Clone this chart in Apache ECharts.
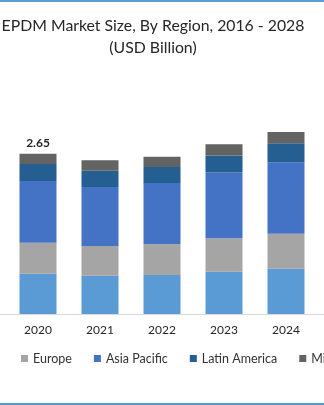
<!DOCTYPE html>
<html>
<head>
<meta charset="utf-8">
<script src="https://cdn.jsdelivr.net/npm/echarts@6/dist/echarts.min.js"></script>
<style>
  html, body { margin: 0; padding: 0; width: 324px; height: 405px; overflow: hidden; background: #fff; }
  #wrap { position: relative; width: 324px; height: 405px; overflow: hidden; }
  #c { position: absolute; left: -197px; top: 0; width: 700px; height: 405px; }
  .bar { position: absolute; left: 0; width: 324px; height: 2px; background: #5B9BD5; }
</style>
</head>
<body>
<div id="wrap">
  <div id="c"></div>
  <div class="bar" style="top:0"></div>
  <div class="bar" style="top:403px"></div>
</div>
<script>
const categories = ['2020', '2021', '2022', '2023', '2024'];
const northAmerica = [0.666, 0.633, 0.645, 0.700, 0.749];
const europe = [0.512, 0.490, 0.507, 0.552, 0.579];
const asiaPacific = [1.020, 0.975, 1.013, 1.085, 1.180];
const latinAmerica = [0.281, 0.270, 0.264, 0.281, 0.314];
const middleEastAfrica = [0.171, 0.172, 0.170, 0.188, 0.187];
const totalLabels = ['2.65', '', '', '', ''];

const FONT = 'Lato';
const OFF = 197; // horizontal offset of the chart canvas relative to the page
const chart = echarts.init(document.getElementById('c'), null, { renderer: 'canvas' });

function mk(name, data, color) {
  return { name, type: 'bar', stack: 'total', data, barWidth: 37, itemStyle: { color }, animation: false };
}

const series = [
  mk('North America', northAmerica, '#5B9BD5'),
  mk('Europe', europe, '#A5A5A5'),
  mk('Asia Pacific', asiaPacific, '#4472C4'),
  mk('Latin America', latinAmerica, '#255E91'),
  mk('Middle East & Africa', middleEastAfrica, '#636363')
];
series[4].label = {
  show: true, position: 'top', distance: 5,
  fontFamily: FONT, fontSize: 12, fontWeight: 'bold', color: '#262626',
  formatter: p => totalLabels[p.dataIndex]
};

const legendText = { fontFamily: FONT, fontSize: 12.5, color: '#333' };
chart.setOption({
  animation: false,
  title: {
    text: 'EPDM Market Size, By Region, 2016 - 2028\n(USD Billion)',
    left: 'center', top: 10,
    textStyle: { fontFamily: FONT, fontSize: 15.8, fontWeight: 'normal', color: '#262626', lineHeight: 22 }
  },
  legend: [
    { data: ['North America'], left: OFF - 100, top: 352, itemWidth: 7, itemHeight: 7, itemGap: 22, padding: 0, icon: 'rect', textStyle: legendText },
    { data: ['Europe', 'Asia Pacific', 'Latin America', 'Middle East & Africa'], left: OFF + 21, top: 352, itemWidth: 7, itemHeight: 7, itemGap: 22, padding: 0, icon: 'rect', textStyle: legendText }
  ],
  grid: { left: OFF - 55, width: 434, top: 102.25, bottom: 91, containLabel: false },
  xAxis: {
    type: 'category', data: categories, min: -1, max: 5, boundaryGap: true,
    axisLine: { lineStyle: { color: '#D9D9D9', width: 1 } },
    axisTick: { show: false },
    axisLabel: { fontFamily: FONT, fontSize: 12, color: '#262626', margin: 10 }
  },
  yAxis: { type: 'value', min: 0, max: 3.5, show: false, splitLine: { show: false } },
  series
});
</script>
</body>
</html>
